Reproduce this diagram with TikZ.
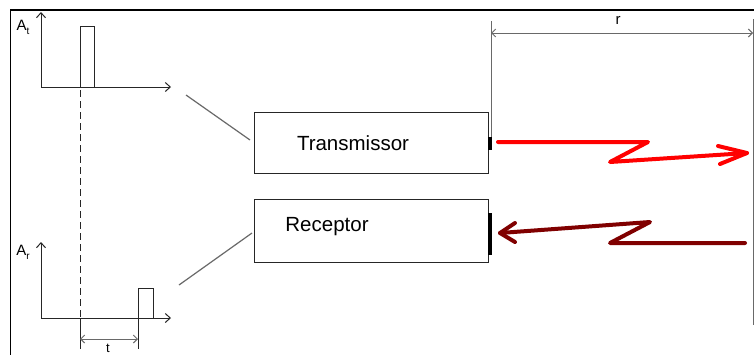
\documentclass[tikz,border=0pt]{standalone}
\usepackage{fontspec}
\setmainfont{Liberation Sans}
\usetikzlibrary{arrows.meta}

\definecolor{txred}{RGB}{255,0,0}
\definecolor{rxred}{RGB}{128,0,0}
\definecolor{dimgray}{RGB}{105,105,105}

\tikzset{
  box/.style={draw=black!85, line width=1pt, rectangle, inner sep=0pt, minimum width=234pt},
  boxtext/.style={font=\fontsize{20.5}{22}\selectfont, inner sep=0pt},
  axis/.style={draw=black!85, line width=1pt, -{Straight Barb[length=5pt,width=9pt]}},
  pulse/.style={draw=black!85, line width=1pt},
  dimline/.style={draw=dimgray, line width=1pt, {Straight Barb[length=4pt,width=8pt]}-{Straight Barb[length=4pt,width=8pt]}},
  guide/.style={draw=dimgray, line width=1pt},
  link/.style={draw=dimgray, line width=1.2pt},
  antenna/.style={fill=black, draw=none},
  wave/.style={line width=4pt, line cap=round, line join=round},
  smalltext/.style={font=\fontsize{15}{15}\selectfont, inner sep=0pt},
}

\begin{document}
\begin{tikzpicture}[x=1pt,y=-1pt]
  \useasboundingbox (0,0) rectangle (754,354);
  \clip (0,0) rectangle (754,354);
  \fill[white] (0,0) rectangle (754,354);

  % frame
  \draw[black, line width=2pt] (10,10) -- (755,10);
  \draw[black, line width=1pt] (10.5,10) -- (10.5,355);

  % transmitter and receiver blocks
  \node[box, minimum height=61pt] (tx) at (371,142.5) {};
  \node[boxtext] (txlabel) at (353,143) {Transmissor};
  \node[box, minimum height=63pt] (rx) at (371,230.5) {};
  \node[boxtext] (rxlabel) at (327,227) {Receptor};

  % antennas
  \fill[antenna] (488,137) rectangle (491.5,150);
  \fill[antenna] (488,213) rectangle (492,255);

  % range r
  \coordinate (rleft) at (491,33);
  \coordinate (rright) at (753,33);
  \draw[guide] (491,21) -- (491,137);
  \draw[guide] (753,19) -- (753,325);
  \draw[dimline] (rleft) -- (rright);
  \node[smalltext] (rlabel) at (618,20) {r};

  % transmitted wave
  \draw[wave, txred] (498,142) -- (648,142) -- (610,162) -- (747,153);
  \draw[wave, txred] (718,146) -- (747,153) -- (720,164);

  % received wave
  \draw[wave, rxred] (745,243) -- (610,243) -- (650,222) -- (500,233);
  \draw[wave, rxred] (515,223) -- (500,233) -- (515,242);

  % transmitted pulse plot
  \coordinate (to) at (41,87);
  \draw[axis] (to) -- (41,12);
  \draw[axis] (to) -- (171,87);
  \draw[pulse] (80,87) -- (80,26) -- (94,26) -- (94,87);
  \node[smalltext] (atlabel) at (23,27) {A\raisebox{-4pt}{\fontsize{10}{10}\selectfont t}};

  % received pulse plot
  \coordinate (ro) at (41,318);
  \draw[axis] (ro) -- (41,242);
  \draw[axis] (ro) -- (171,318);
  \draw[pulse] (138,318) -- (138,288) -- (153,288) -- (153,318);
  \node[smalltext] (arlabel) at (23,252) {A\raisebox{-4pt}{\fontsize{10}{10}\selectfont r}};

  % delay t
  \draw[black!85, line width=1pt, dash pattern=on 7pt off 4pt] (80,90) -- (80,318);
  \draw[black!85, line width=1pt] (80,318) -- (80,349);
  \draw[black!85, line width=1pt] (138,318) -- (138,349);
  \coordinate (tleft) at (80,339);
  \coordinate (tright) at (138,339);
  \draw[dimline] (tleft) -- (tright);
  \node[smalltext, font=\fontsize{13}{13}\selectfont] (tlabel) at (108,348) {t};

  % leader lines from plots to blocks
  \coordinate (atend) at (186,95);
  \coordinate (arend) at (179,285);
  \draw[link] (atend) -- (250,140);
  \draw[link] (arend) -- (252,233);
\end{tikzpicture}
\end{document}
